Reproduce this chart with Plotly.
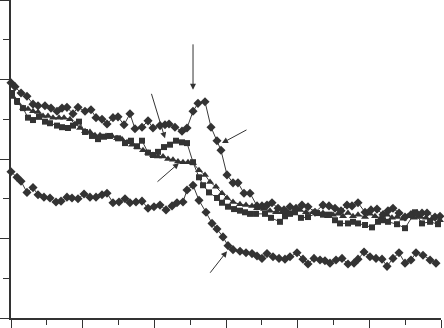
import plotly.graph_objects as go

# ---- data (arbitrary units: x 0-60, y 0-4) ----
d1_x = [0.0, 0.56, 1.40, 2.23, 3.07, 3.77, 4.74, 5.58, 6.42, 7.12,
        7.81, 8.65, 9.35, 10.33, 11.16, 11.86, 12.70, 13.40, 14.23, 14.93,
        15.77, 16.60, 17.30, 18.28, 19.12, 19.81, 20.79, 21.49, 22.05, 22.88,
        23.86, 24.56, 25.40, 26.09, 27.07, 27.91, 28.74, 29.30, 30.14, 30.98,
        31.67, 32.51, 33.35, 34.33, 35.02, 35.72, 36.42, 37.26, 38.09, 38.93,
        39.77, 40.60, 41.44, 42.42, 43.53, 44.37, 45.21, 46.05, 46.88, 47.58,
        48.42, 49.40, 50.23, 51.07, 51.91, 52.60, 53.30, 54.14, 54.98, 55.81,
        56.65, 57.35, 58.05, 59.16, 59.86]
d1_y = [2.96, 2.91, 2.83, 2.79, 2.69, 2.67, 2.67, 2.64, 2.60, 2.64,
        2.65, 2.57, 2.65, 2.60, 2.62, 2.52, 2.50, 2.44, 2.52, 2.53,
        2.43, 2.57, 2.38, 2.40, 2.48, 2.39, 2.42, 2.43, 2.44, 2.40,
        2.35, 2.39, 2.60, 2.70, 2.72, 2.40, 2.23, 2.11, 1.80, 1.70,
        1.70, 1.57, 1.57, 1.41, 1.41, 1.42, 1.45, 1.38, 1.36, 1.40,
        1.38, 1.42, 1.40, 1.33, 1.42, 1.41, 1.38, 1.35, 1.42, 1.41,
        1.45, 1.33, 1.36, 1.37, 1.30, 1.35, 1.38, 1.32, 1.27, 1.30,
        1.31, 1.32, 1.32, 1.27, 1.28]

sq_x = [0.14, 0.84, 1.67, 2.37, 3.07, 3.91, 4.74, 5.44, 6.42, 7.12,
        7.95, 8.65, 9.49, 10.33, 11.30, 12.14, 12.98, 13.81, 14.93, 15.91,
        16.74, 17.58, 18.28, 19.12, 19.81, 20.51, 21.35, 22.19, 23.02, 23.86,
        24.56, 25.40, 26.23, 26.79, 27.63, 28.74, 29.44, 30.28, 31.12, 31.95,
        32.65, 33.35, 34.19, 35.44, 36.28, 37.53, 38.23, 38.93, 39.63, 40.46,
        41.44, 42.70, 43.53, 44.37, 45.21, 45.91, 47.02, 47.72, 48.42, 49.40,
        50.37, 51.21, 51.91, 52.60, 53.86, 54.98, 56.37, 57.35, 58.47, 59.58]
sq_y = [2.83, 2.73, 2.64, 2.52, 2.49, 2.53, 2.47, 2.45, 2.42, 2.40,
        2.39, 2.42, 2.47, 2.34, 2.29, 2.25, 2.28, 2.29, 2.26, 2.20,
        2.23, 2.16, 2.23, 2.08, 2.05, 2.09, 2.15, 2.18, 2.23, 2.21,
        2.20, 1.96, 1.77, 1.67, 1.58, 1.51, 1.45, 1.40, 1.37, 1.35,
        1.33, 1.31, 1.31, 1.31, 1.26, 1.21, 1.28, 1.31, 1.33, 1.26,
        1.27, 1.32, 1.30, 1.30, 1.23, 1.19, 1.19, 1.21, 1.19, 1.17,
        1.14, 1.21, 1.23, 1.21, 1.18, 1.13, 1.33, 1.19, 1.21, 1.18]

tr_x = [0.28, 0.98, 1.67, 2.37, 3.07, 3.77, 4.47, 5.16, 5.86, 6.70,
        7.40, 8.23, 8.93, 9.63, 10.33, 11.02, 11.72, 12.42, 13.26, 14.09,
        14.79, 15.49, 16.19, 16.88, 17.58, 18.42, 19.12, 19.81, 20.51, 21.21,
        21.91, 22.60, 23.30, 24.00, 24.70, 25.40, 26.23, 27.07, 27.77, 28.60,
        29.44, 30.14, 30.98, 31.95, 32.79, 33.63, 34.33, 35.30, 36.14, 36.98,
        37.81, 38.65, 39.49, 40.32, 41.16, 42.14, 42.84, 43.53, 44.23, 44.93,
        45.63, 46.33, 47.02, 47.72, 48.42, 49.40, 50.09, 50.79, 51.63, 52.47,
        53.16, 53.86, 54.70, 55.40, 56.23, 57.07, 57.91, 58.74, 59.86]
tr_y = [2.78, 2.70, 2.64, 2.63, 2.60, 2.59, 2.54, 2.54, 2.52, 2.52,
        2.52, 2.50, 2.44, 2.39, 2.35, 2.34, 2.30, 2.30, 2.29, 2.29,
        2.26, 2.25, 2.21, 2.18, 2.15, 2.11, 2.08, 2.05, 2.03, 2.03,
        2.00, 1.99, 1.97, 1.96, 1.96, 1.95, 1.86, 1.80, 1.71, 1.65,
        1.57, 1.51, 1.46, 1.43, 1.42, 1.41, 1.38, 1.37, 1.35, 1.33,
        1.33, 1.33, 1.35, 1.36, 1.33, 1.33, 1.31, 1.32, 1.28, 1.30,
        1.31, 1.28, 1.32, 1.28, 1.30, 1.27, 1.31, 1.28, 1.26, 1.30,
        1.26, 1.27, 1.25, 1.28, 1.26, 1.27, 1.26, 1.25, 1.23]

d4_x = [0.0, 0.84, 1.40, 2.23, 3.07, 3.77, 4.60, 5.44, 6.28, 6.98,
        7.81, 8.51, 9.35, 10.19, 11.02, 11.86, 12.70, 13.40, 14.23, 15.07,
        15.91, 16.60, 17.44, 18.28, 19.12, 19.95, 20.79, 21.63, 22.47, 23.16,
        24.00, 24.56, 25.40, 26.23, 27.21, 28.05, 28.74, 29.58, 30.28, 30.98,
        31.95, 32.79, 33.63, 34.33, 35.02, 35.72, 36.56, 37.40, 38.23, 38.93,
        39.91, 40.74, 41.44, 42.28, 43.12, 43.81, 44.51, 45.35, 46.19, 47.02,
        47.86, 48.42, 49.26, 50.09, 50.93, 51.77, 52.47, 53.30, 54.14, 54.98,
        55.81, 56.51, 57.49, 58.47, 59.30]
d4_y = [1.84, 1.77, 1.72, 1.58, 1.64, 1.55, 1.52, 1.51, 1.46, 1.47,
        1.52, 1.51, 1.50, 1.56, 1.52, 1.52, 1.55, 1.57, 1.45, 1.46,
        1.50, 1.45, 1.46, 1.47, 1.38, 1.40, 1.42, 1.36, 1.41, 1.45,
        1.46, 1.61, 1.67, 1.48, 1.33, 1.19, 1.12, 1.02, 0.91, 0.86,
        0.84, 0.82, 0.81, 0.78, 0.75, 0.81, 0.77, 0.75, 0.74, 0.77,
        0.82, 0.74, 0.68, 0.75, 0.73, 0.72, 0.69, 0.73, 0.75, 0.68,
        0.69, 0.74, 0.83, 0.77, 0.75, 0.74, 0.65, 0.75, 0.82, 0.69,
        0.73, 0.82, 0.79, 0.73, 0.69]

# arrow annotations: (tip x, tip y, tail offset px dx, dy)
arrows = [(25.40, 2.87, 0, -47),
          (21.49, 2.26, -14, -46),
          (29.44, 2.20, 26, -14),
          (23.44, 1.95, -23, 20),
          (30.14, 0.84, -18, 23)]

DARK = "#333333"
LINE = "#3a3a3a"

fig = go.Figure()
series = [
    (tr_x, tr_y, "triangle-up", 7),
    (sq_x, sq_y, "square", 6),
    (d1_x, d1_y, "diamond", 7),
    (d4_x, d4_y, "diamond", 7),
]
for xs, ys, sym, sz in series:
    fig.add_trace(go.Scatter(
        x=xs, y=ys, mode="lines+markers",
        line=dict(color=LINE, width=1),
        marker=dict(symbol=sym, size=sz, color=DARK, line=dict(width=0)),
        showlegend=False, cliponaxis=False))

for (tx, ty, dx, dy) in arrows:
    fig.add_annotation(x=tx, y=ty, xref="x", yref="y", ax=dx, ay=dy,
                       axref="pixel", ayref="pixel", text="", showarrow=True,
                       arrowhead=2, arrowsize=1.2, arrowwidth=1,
                       arrowcolor=DARK, standoff=0)

fig.update_layout(
    width=444, height=328,
    margin=dict(l=11, r=3, t=0, b=10),
    paper_bgcolor="white", plot_bgcolor="white",
    showlegend=False,
)
fig.update_xaxes(range=[0, 60], dtick=10, tick0=0, showgrid=False, zeroline=False,
                 showline=True, linecolor=DARK, linewidth=1.5,
                 ticks="outside", ticklen=9, tickwidth=1, tickcolor=DARK,
                 showticklabels=False,
                 minor=dict(dtick=5, tick0=0, ticks="outside", ticklen=5,
                            tickwidth=1, tickcolor=DARK, showgrid=False))
fig.update_yaxes(range=[0, 4], dtick=1, tick0=0, showgrid=False, zeroline=False,
                 showline=True, linecolor=DARK, linewidth=1.5,
                 ticks="outside", ticklen=11, tickwidth=1, tickcolor=DARK,
                 showticklabels=False,
                 minor=dict(dtick=0.5, tick0=0, ticks="outside", ticklen=6,
                            tickwidth=1, tickcolor=DARK, showgrid=False))

fig.write_html("out.html")
